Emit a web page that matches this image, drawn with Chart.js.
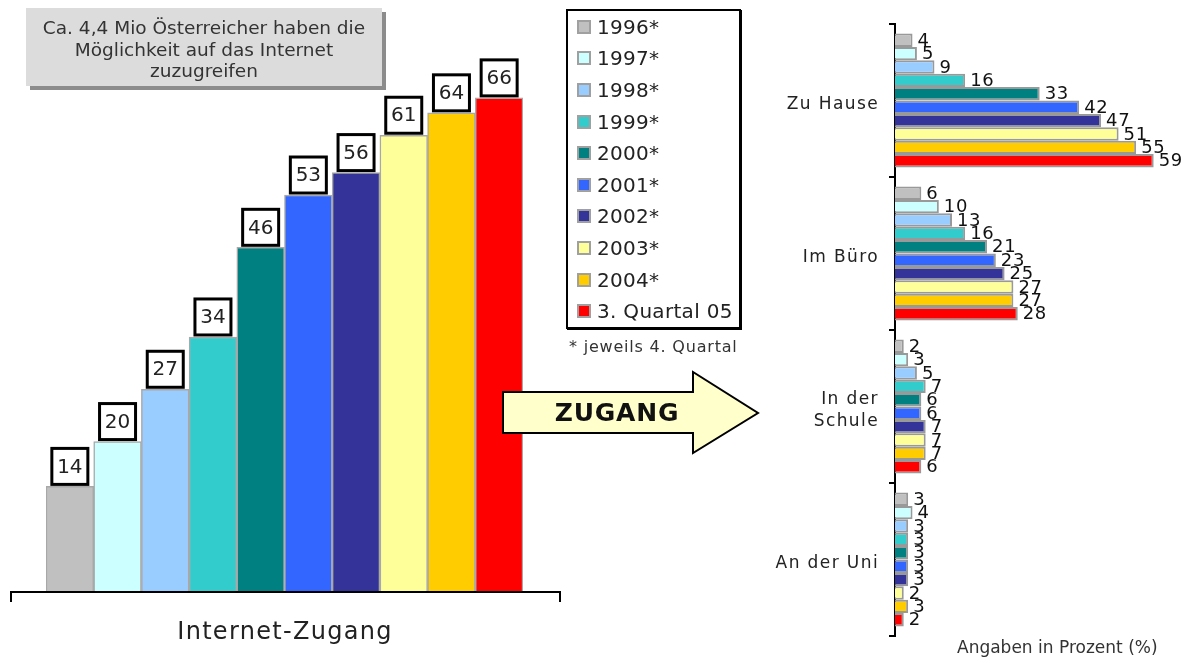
<!DOCTYPE html>
<html lang="de">
<head>
<meta charset="utf-8">
<title>Internet-Zugang in Österreich</title>
<script src="https://cdn.jsdelivr.net/npm/chart.js@4.4.1/dist/chart.umd.min.js"></script>
<style>
  html, body { margin: 0; padding: 0; background: #fff; }
  body {
    width: 1191px; height: 659px; position: relative; overflow: hidden;
    font-family: "DejaVu Sans", Verdana, sans-serif; color: #222;
  }
  canvas { position: absolute; top: 0; }
  #leftChart { left: 0; }
  #rightChart { left: 760px; }
  .info {
    position: absolute; left: 26px; top: 8px; width: 356px; height: 78px;
    background: #dcdcdc; box-shadow: 4px 4px 0 #8c8c8c;
    text-align: center; font-size: 18.5px; line-height: 21.5px; color: #333;
    box-sizing: border-box; padding-top: 9px; white-space: nowrap;
  }
  .legend {
    position: absolute; left: 566px; top: 9px; width: 171px; height: 316px;
    border: 2px solid #000; box-shadow: 1px 1px 0 #000; background: #fff;
  }
  .legend-row { height: 31.6px; display: flex; align-items: center; font-size: 20px; letter-spacing: 0.3px; }
  .legend-row span.sw {
    width: 10px; height: 10px; border: 2px solid #a0a0a0; margin: 0 6px 0 9px; flex: none;
  }
  .note { position: absolute; left: 569px; top: 337px; font-size: 16px; letter-spacing: 0.8px; color: #333; }
  .bracket {
    position: absolute; left: 10px; top: 591px; width: 547px; height: 9px;
    border: 2px solid #000; border-bottom: none;
  }
  .xtitle {
    position: absolute; left: 0; width: 570px; top: 617px; text-align: center;
    font-size: 24px; letter-spacing: 1.3px; color: #222;
  }
  .unit { position: absolute; left: 957px; top: 637px; font-size: 17px; color: #333; }
  svg.arrow { position: absolute; left: 0; top: 0; pointer-events: none; }
</style>
</head>
<body>
<canvas id="leftChart" width="580" height="659"></canvas>
<canvas id="rightChart" width="431" height="659"></canvas>

<div class="info">Ca. 4,4 Mio Österreicher haben die<br>Möglichkeit auf das Internet<br>zuzugreifen</div>
<div class="legend" id="legend"></div>
<div class="note">* jeweils 4. Quartal</div>
<div class="bracket"></div>
<div class="xtitle">Internet-Zugang</div>
<div class="unit">Angaben in Prozent (%)</div>

<svg class="arrow" width="1191" height="659">
  <polygon points="503,392 693,392 693,372 758,413 693,453 693,433 503,433"
           fill="#ffffcc" stroke="#000" stroke-width="2" stroke-linejoin="miter"/>
  <text x="617" y="414" text-anchor="middle" dominant-baseline="middle" letter-spacing="0.8"
        font-family="DejaVu Sans, Verdana, sans-serif" font-weight="bold" font-size="25" fill="#111">ZUGANG</text>
</svg>

<script>
const FONT = '"DejaVu Sans", Verdana, sans-serif';

// periods (legend + left chart categories)
const periods = ["1996*", "1997*", "1998*", "1999*", "2000*", "2001*", "2002*", "2003*", "2004*", "3. Quartal 05"];
const colors = ["#c0c0c0", "#ccffff", "#99ccff", "#33cccc", "#008080", "#3366ff", "#333399", "#ffff99", "#ffcc00", "#ff0000"];

// Internet-Zugang gesamt (%)
const internetAccess = [14, 20, 27, 34, 46, 53, 56, 61, 64, 66];

// Zugang nach Ort (%), one value per period
const places = ["Zu Hause", "Im Büro", ["In der", "Schule"], "An der Uni"];
const zuHause = [4, 5, 9, 16, 33, 42, 47, 51, 55, 59];
const imBuero = [6, 10, 13, 16, 21, 23, 25, 27, 27, 28];
const inDerSchule = [2, 3, 5, 7, 6, 6, 7, 7, 7, 6];
const anDerUni = [3, 4, 3, 3, 3, 3, 3, 2, 3, 2];

Chart.defaults.font.family = FONT;
Chart.defaults.color = "#222";

// legend
const legendEl = document.getElementById("legend");
legendEl.innerHTML = periods
  .map((p, i) => `<div class="legend-row"><span class="sw" style="background:${colors[i]}"></span>${p}</div>`)
  .join("");

// boxed value labels above the columns
const boxLabels = {
  id: "boxLabels",
  afterDatasetsDraw(chart) {
    const ctx = chart.ctx;
    const meta = chart.getDatasetMeta(0);
    ctx.save();
    ctx.font = "20px " + FONT;
    ctx.textAlign = "center";
    ctx.textBaseline = "middle";
    meta.data.forEach((bar, i) => {
      const w = 36, h = 36;
      const x = bar.x - w / 2;
      const y = bar.y - 2 - h;
      ctx.fillStyle = "#fff";
      ctx.fillRect(x, y, w, h);
      ctx.lineWidth = 3;
      ctx.strokeStyle = "#000";
      ctx.strokeRect(x, y, w, h);
      ctx.fillStyle = "#222";
      ctx.fillText(String(internetAccess[i]), bar.x, y + h / 2 + 1);
    });
    ctx.restore();
  },
};

new Chart(document.getElementById("leftChart"), {
  type: "bar",
  data: {
    labels: periods,
    datasets: [{
      data: internetAccess,
      backgroundColor: colors,
      borderColor: "#a8a8a8",
      borderWidth: 1.5,
      barPercentage: 1,
      categoryPercentage: 1,
    }],
  },
  options: {
    responsive: false,
    animation: false,
    devicePixelRatio: 1,
    layout: { padding: { left: 46, right: 57, top: 68, bottom: 68 } },
    plugins: { legend: { display: false }, tooltip: { enabled: false } },
    scales: {
      x: { display: false },
      y: { display: false, min: 0, max: 70 },
    },
  },
  plugins: [boxLabels],
});

// right chart: value labels next to bars + letter spacing for axis labels
const barValues = {
  id: "barValues",
  beforeDraw(chart) {
    chart.ctx.letterSpacing = "1.4px";
  },
  beforeDatasetsDraw(chart) {
    chart.ctx.letterSpacing = "0px";
  },
  afterDatasetsDraw(chart) {
    const ctx = chart.ctx;
    ctx.save();
    ctx.letterSpacing = "0.6px";
    ctx.font = "18px " + FONT;
    ctx.textAlign = "left";
    ctx.textBaseline = "middle";
    ctx.fillStyle = "#111";
    chart.data.datasets.forEach((ds, di) => {
      chart.getDatasetMeta(di).data.forEach((bar, i) => {
        ctx.fillText(String(ds.data[i]), bar.x + 5, bar.y + 1);
      });
    });
    ctx.restore();
  },
};

new Chart(document.getElementById("rightChart"), {
  type: "bar",
  data: {
    labels: places,
    datasets: periods.map((p, i) => ({
      label: p,
      data: [zuHause[i], imBuero[i], inDerSchule[i], anDerUni[i]],
      backgroundColor: colors[i],
      borderColor: "#999",
      borderWidth: 2,
      barPercentage: 1,
      categoryPercentage: 0.876,
    })),
  },
  options: {
    indexAxis: "y",
    responsive: false,
    animation: false,
    devicePixelRatio: 1,
    layout: { padding: { left: 0, right: 11, top: 24, bottom: 23 } },
    plugins: { legend: { display: false }, tooltip: { enabled: false } },
    scales: {
      x: { display: false, min: 0, max: 65 },
      y: {
        grid: { offset: true, drawOnChartArea: false, drawTicks: true, tickLength: 6, color: "#000", lineWidth: 2 },
        border: { display: true, color: "#000", width: 2 },
        ticks: { color: "#222", padding: 10, labelOffset: 4, font: { size: 17, lineHeight: 1.3 } },
        afterFit(scale) { scale.width = 135; },
      },
    },
  },
  plugins: [barValues],
});
</script>
</body>
</html>
